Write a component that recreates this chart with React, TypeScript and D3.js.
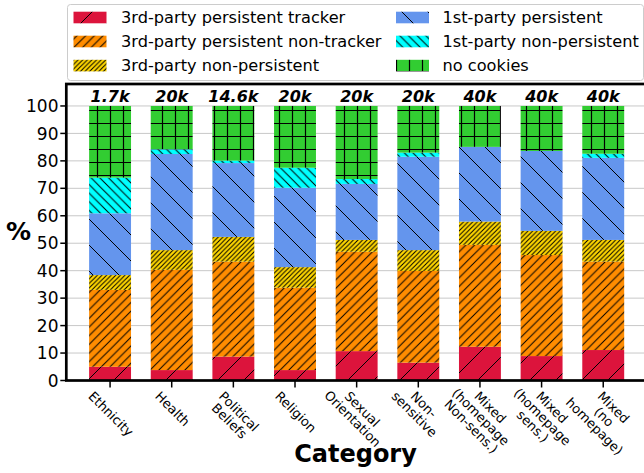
import React, { useEffect, useRef } from "react";
import * as d3 from "d3";

const CATEGORIES = [
  "Ethnicity",
  "Health",
  "Political\nBeliefs",
  "Religion",
  "Sexual\nOrientation",
  "Non-\nsensitive",
  "Mixed\n(homepage\nNon-sens.)",
  "Mixed\n(homepage\nsens.)",
  "Mixed\n(no\nhomepage)",
];
const SAMPLE_SIZES = ["1.7k", "20k", "14.6k", "20k", "20k", "20k", "40k", "40k", "40k"];

// percent of sites per category, bottom to top of each stack
const THIRD_TRACKER = [5.0, 3.8, 8.7, 3.8, 10.7, 6.5, 12.3, 8.9, 11.1];
const THIRD_NON_TRACKER = [28.0, 36.5, 34.6, 30.0, 36.2, 33.4, 37.1, 36.8, 32.2];
const THIRD_NON_PERSISTENT = [5.4, 7.2, 9.0, 7.5, 4.3, 7.6, 8.5, 8.8, 7.9];
const FIRST_PERSISTENT = [22.5, 35.0, 26.9, 28.9, 20.4, 34.0, 27.2, 29.1, 29.9];
const FIRST_NON_PERSISTENT = [13.0, 1.7, 0.9, 7.3, 1.8, 1.5, 0, 0, 1.5];
const NO_COOKIES = [26.1, 15.8, 19.9, 22.5, 26.6, 17.0, 14.9, 16.4, 17.4];

const Y_TICKS = [0, 10, 20, 30, 40, 50, 60, 70, 80, 90, 100];

const SERIES = [
  { key: "t3", label: "3rd-party persistent tracker", values: THIRD_TRACKER, color: "#dc143c", hatch: "/", gap: 26 },
  { key: "n3", label: "3rd-party persistent non-tracker", values: THIRD_NON_TRACKER, color: "#ff8c00", hatch: "/", gap: 8.67 },
  { key: "p3", label: "3rd-party non-persistent", values: THIRD_NON_PERSISTENT, color: "#ffd700", hatch: "/", gap: 4.6 },
  { key: "f1", label: "1st-party persistent", values: FIRST_PERSISTENT, color: "#6495ed", hatch: "\\", gap: 26 },
  { key: "p1", label: "1st-party non-persistent", values: FIRST_NON_PERSISTENT, color: "#00ffff", hatch: "\\", gap: 8.67 },
  { key: "nc", label: "no cookies", values: NO_COOKIES, color: "#32cd32", hatch: "+", gap: 13 },
];

const W = 644;
const H = 473;
const FONT = "DejaVu Sans, sans-serif";

const App: React.FC = () => {
  const svgRef = useRef<SVGSVGElement | null>(null);

  useEffect(() => {
    if (!svgRef.current) return;
    const svg = d3.select(svgRef.current);
    svg.selectAll("*").remove();

    const plot = { left: 66.3, right: 647, top: 84, bottom: 380.5 };

    const x = d3.scaleLinear().domain([-0.71, 8.71]).range([plot.left, plot.right]);
    const y = d3.scaleLinear().domain([0, 108]).range([plot.bottom, plot.top]);
    const barW = x(0.68) - x(0);

    // hatch patterns
    const defs = svg.append("defs");
    SERIES.forEach(s => {
      const g = s.gap;
      const p = defs.append("pattern")
        .attr("id", `hatch-${s.key}`)
        .attr("patternUnits", "userSpaceOnUse")
        .attr("width", g)
        .attr("height", g);
      p.append("rect").attr("width", g).attr("height", g).attr("fill", s.color);
      let d = "";
      if (s.hatch === "/") {
        d = `M0,${g}L${g},0M${-g / 2},${g / 2}L${g / 2},${-g / 2}M${g / 2},${1.5 * g}L${1.5 * g},${g / 2}`;
      } else if (s.hatch === "\\") {
        d = `M0,0L${g},${g}M${-g / 2},${g / 2}L${g / 2},${1.5 * g}M${g / 2},${-g / 2}L${1.5 * g},${g / 2}`;
      } else {
        d = `M${g / 2},0V${g}M0,${g / 2}H${g}`;
      }
      p.append("path")
        .attr("d", d)
        .attr("stroke", "#000")
        .attr("stroke-width", s.hatch === "+" ? 1.2 : 1)
        .attr("fill", "none");
    });

    defs.append("clipPath").attr("id", "plot-clip")
      .append("rect")
      .attr("x", plot.left).attr("y", plot.top)
      .attr("width", plot.right - plot.left).attr("height", plot.bottom - plot.top);

    // grid
    svg.append("g")
      .selectAll("line")
      .data(Y_TICKS)
      .join("line")
      .attr("x1", plot.left)
      .attr("x2", plot.right)
      .attr("y1", d => y(d))
      .attr("y2", d => y(d))
      .attr("stroke", "#c8c8c8")
      .attr("stroke-width", 1);

    // stacked bars
    const rows = CATEGORIES.map((c, i) => {
      const r: Record<string, number> = { idx: i };
      SERIES.forEach(s => { r[s.key] = s.values[i]; });
      return r;
    });
    const stacked = d3.stack<Record<string, number>>().keys(SERIES.map(s => s.key))(rows);

    const bars = svg.append("g").attr("clip-path", "url(#plot-clip)");
    stacked.forEach((layer, li) => {
      bars.append("g")
        .selectAll("rect")
        .data(layer)
        .join("rect")
        .attr("x", d => x(d.data.idx) - barW / 2)
        .attr("width", barW)
        .attr("y", d => y(d[1]))
        .attr("height", d => Math.max(0, y(d[0]) - y(d[1])))
        .attr("fill", `url(#hatch-${SERIES[li].key})`);
    });

    // sample size labels
    svg.append("g")
      .selectAll("text")
      .data(SAMPLE_SIZES)
      .join("text")
      .attr("x", (_, i) => x(i))
      .attr("y", 102)
      .attr("text-anchor", "middle")
      .attr("font-family", FONT)
      .attr("font-weight", "bold")
      .attr("font-style", "italic")
      .attr("font-size", 16)
      .text(d => d);

    // y axis ticks + labels
    const yAxis = svg.append("g");
    Y_TICKS.forEach(t => {
      yAxis.append("line")
        .attr("x1", plot.left - 6).attr("x2", plot.left)
        .attr("y1", y(t)).attr("y2", y(t))
        .attr("stroke", "#000").attr("stroke-width", 1.5);
      yAxis.append("text")
        .attr("x", 58.5)
        .attr("y", y(t))
        .attr("dy", "0.36em")
        .attr("text-anchor", "end")
        .attr("font-family", FONT)
        .attr("font-size", 17)
        .text(t);
    });

    // x ticks + rotated, multi-line labels
    const xAxis = svg.append("g");
    const fs = 13;
    const step = 13.5;
    const asc = 0.76 * fs;
    const desc = 0.24 * fs;
    CATEGORIES.forEach((c, i) => {
      const tx = x(i);
      xAxis.append("line")
        .attr("x1", tx).attr("x2", tx)
        .attr("y1", plot.bottom).attr("y2", plot.bottom + 7)
        .attr("stroke", "#000").attr("stroke-width", 1.5);

      const lines = c.split("\n");
      const g = xAxis.append("g");
      const texts = lines.map((ln, k) =>
        g.append("text")
          .attr("x", 0)
          .attr("y", k * step)
          .attr("text-anchor", "middle")
          .attr("font-family", FONT)
          .attr("font-size", fs)
          .text(ln)
      );
      const w1 = (texts[0].node() as SVGTextElement).getComputedTextLength();
      const n = lines.length;
      const center = 0.7071 * (asc - (n - 1) * step - desc) / 2;
      const ox = tx - center;
      const oy = 390 + 0.7071 * (w1 / 2 + asc);
      g.attr("transform", `translate(${ox},${oy}) rotate(45)`);
    });

    // spines
    svg.append("rect")
      .attr("x", plot.left).attr("y", plot.top)
      .attr("width", plot.right - plot.left).attr("height", plot.bottom - plot.top)
      .attr("fill", "none").attr("stroke", "#000").attr("stroke-width", 2.7);

    // axis titles
    svg.append("text")
      .attr("x", 18.5).attr("y", 240)
      .attr("text-anchor", "middle")
      .attr("font-family", FONT).attr("font-weight", "bold").attr("font-size", 25)
      .text("%");
    svg.append("text")
      .attr("x", 355.5).attr("y", 462)
      .attr("text-anchor", "middle")
      .attr("font-family", FONT).attr("font-weight", "bold").attr("font-size", 24)
      .text("Category");

    // legend
    const lg = svg.append("g");
    lg.append("rect")
      .attr("x", 67.5).attr("y", 4.5).attr("width", 576).attr("height", 76)
      .attr("rx", 3).attr("fill", "#fff").attr("stroke", "#cccccc").attr("stroke-width", 1);
    const cols = [
      { px: 73.5, tx: 121 },
      { px: 396, tx: 442.5 },
    ];
    const rowY = [17.5, 41.5, 65.6];
    SERIES.forEach((s, i) => {
      const col = cols[Math.floor(i / 3)];
      const cy = rowY[i % 3];
      lg.append("rect")
        .attr("x", col.px).attr("y", cy - 5.8)
        .attr("width", 33).attr("height", 11.6)
        .attr("fill", `url(#hatch-${s.key})`);
      lg.append("text")
        .attr("x", col.tx).attr("y", cy)
        .attr("dy", "0.36em")
        .attr("font-family", FONT).attr("font-size", 16.2)
        .text(s.label);
    });
  }, []);

  return (
    <svg
      ref={svgRef}
      width={W}
      height={H}
      viewBox={`0 0 ${W} ${H}`}
      style={{ position: "absolute", left: 0, top: 0, background: "#fff" }}
    />
  );
};

export default App;
